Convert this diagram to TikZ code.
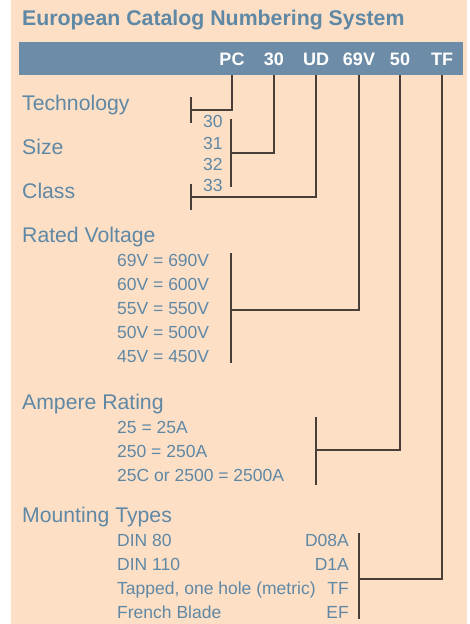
\documentclass[tikz,border=0pt]{standalone}
\usepackage{fontspec}
\setmainfont{Liberation Sans}
\usetikzlibrary{positioning,calc}
\definecolor{peach}{HTML}{FDDFC6}
\definecolor{steel}{HTML}{5F88A5}
\definecolor{barblue}{HTML}{6D8CA7}
\definecolor{wire}{HTML}{4A3E38}

\begin{document}
\begin{tikzpicture}[x=1pt, y=-1pt,
  lbl/.style={anchor=base west, inner sep=0pt, text=steel, font=\fontsize{21.2}{25}\selectfont},
  itm/.style={anchor=base west, inner sep=0pt, text=steel, font=\fontsize{17.5}{20}\selectfont},
  code/.style={anchor=base, inner sep=0pt, text=white, font=\fontsize{18}{21}\selectfont\bfseries},
  link/.style={draw=wire, line width=1.2pt}]
  \useasboundingbox (0,0) rectangle (469,624);
  \fill[peach] (11,0) rectangle (467,624);
  % title and code bar
  \node[lbl, font=\fontsize{21.3}{25}\selectfont\bfseries] (title) at (22,25) {European Catalog Numbering System};
  \node[fill=barblue, minimum width=444pt, minimum height=33pt, inner sep=0pt, anchor=north west] (bar) at (19,42) {};
  \foreach \n/\x/\t in {pc/232/PC, sz/274/30, cl/316/UD, rv/359/69V, ar/400/50, mt/442/TF}
    \node[code] (c-\n) at (\x,65) {\t};
  % section labels
  \node[lbl] (tech) at (22,110.5) {Technology};
  \node[lbl] (size) at (22,154) {Size};
  \node[lbl] (class) at (22,198.5) {Class};
  \node[lbl] (volt) at (22,242.5) {Rated Voltage};
  \node[lbl] (amp) at (22,409) {Ampere Rating};
  \node[lbl] (mount) at (22,522.5) {Mounting Types};
  % size numbers
  \foreach \i/\s in {0/30, 1/31, 2/32, 3/33}
    {\pgfmathsetmacro{\yy}{127.8+\i*21.2}
     \node[itm] (s-\i) at (203,\yy) {\s};}
  % voltages
  \foreach \i/\s in {0/69V = 690V, 1/60V = 600V, 2/55V = 550V, 3/50V = 500V, 4/45V = 450V}
    {\pgfmathsetmacro{\yy}{266.8+\i*23.8}
     \node[itm] (v-\i) at (117,\yy) {\s};}
  % ampere ratings
  \foreach \i/\s in {0/25 = 25A, 1/250 = 250A, 2/25C or 2500 = 2500A}
    {\pgfmathsetmacro{\yy}{433.8+\i*23.7}
     \node[itm] (a-\i) at (117,\yy) {\s};}
  % mounting types
  \foreach \i/\s/\k in {0/DIN 80/D08A, 1/DIN 110/D1A, 2/{Tapped, one hole (metric)}/TF, 3/French Blade/EF}
    {\pgfmathsetmacro{\yy}{546.8+\i*23.9}
     \node[itm] (m-\i) at (117,\yy) {\s};
     \node[itm, anchor=base east] (mk-\i) at (349,\yy) {\k};}
  % brackets
  \foreach \n/\x/\ya/\yb/\ym in {tech/191/97/123/110, size/231/119/187/153, class/191/184/210/197,
      volt/231/253/363/310, amp/316/417/485/450, mount/359/533/619/579}
    {\draw[link] (\x,\ya) -- (\x,\yb);
     \coordinate (k-\n) at (\x,\ym);}
  % connectors
  \draw[link] (c-pc |- bar.south) |- (k-tech);
  \draw[link] (c-sz |- bar.south) |- (k-size);
  \draw[link] (c-cl |- bar.south) |- (k-class);
  \draw[link] (c-rv |- bar.south) |- (k-volt);
  \draw[link] (c-ar |- bar.south) |- (k-amp);
  \draw[link] (c-mt |- bar.south) |- (k-mount);
\end{tikzpicture}
\end{document}
